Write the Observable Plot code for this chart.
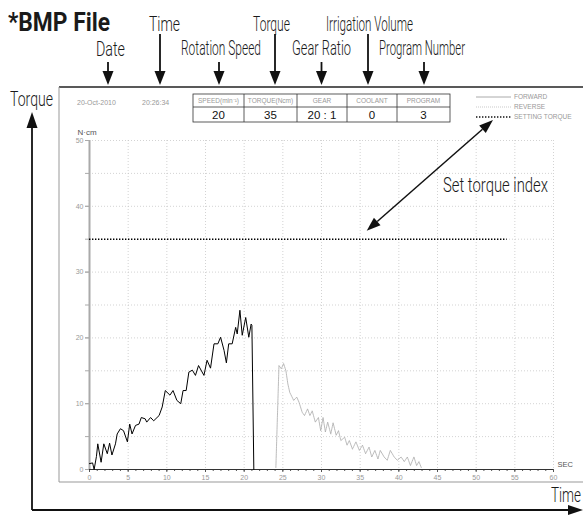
<!DOCTYPE html>
<html><head><meta charset="utf-8">
<script src="https://cdn.jsdelivr.net/npm/d3@7"></script>
<script src="https://cdn.jsdelivr.net/npm/@observablehq/plot@0.6"></script>
<style>body{margin:0;background:#fff}</style>
</head><body><div id="chart"></div>
<script>
// ---- data ----
const forwardTime = [0,0.4,0.6,0.9,1.07,1.5,1.85,2.3,2.6,2.9,3.36,3.58,4.0,4.4,4.9,5.2,5.5,5.95,6.4,6.7,7.2,7.4,7.9,8.3,9.0,9.4,9.8,10.4,10.8,11.3,11.8,12.1,12.5,12.85,13.3,13.7,14.1,14.8,15.2,15.65,16.1,16.6,16.95,17.4,17.7,18.0,18.45,18.9,19.1,19.45,19.75,20.2,20.6,20.9,21.0,21.25];
const forwardTorque = [0.9,1,0,2,3.9,1.1,3.9,2.4,4,2.2,3.9,5.4,6.2,5.9,4.2,6.9,5.4,6.7,6.9,7.9,7.7,7.2,7.9,7.4,8.2,9.5,12,11.3,12,10.5,10,12,12,14.8,15.1,14.3,15.8,14.3,16.6,15.4,19.1,19.1,20.1,18.1,16.2,19.1,19.1,21.6,20.6,24.2,20.4,23.1,20.1,22.1,21.9,0];
const reverseTime = [24.1,24.5,24.8,25.1,25.4,25.65,25.9,26.2,26.4,26.8,27.1,27.5,27.8,28.2,28.5,28.8,29.2,29.6,29.9,30.2,30.5,30.8,31.2,31.5,31.9,32.2,32.5,33.0,33.3,33.6,34.0,34.45,34.9,35.3,35.7,36.15,36.5,36.9,37.3,37.6,38.1,38.5,38.9,39.4,39.8,40.3,40.7,41.1,41.5,41.95,42.3,42.6,42.9];
const reverseTorque = [0.3,15.8,15.3,16.1,15,13,11.7,11,10.5,11,10.2,8.7,8.2,9.2,8.2,8.9,7.2,7.9,5.9,7.9,5.7,7.2,5.4,7.1,5.2,5.9,4.4,4.9,3.7,4.4,3.1,4.2,2.9,3.7,2.4,3.4,1.9,2.9,1.6,2.9,1.9,1.4,2.9,1.9,1.4,1.9,1.2,1.9,0.6,1.9,0.6,1.2,0.3];
const settingTorque = 35;
const settingEnd = 54;
const xLabelTicks = [0,5,10,15,20,25,30,35,40,45,50,55,60];
const xMinorTicks = [0,1,2,3,4,5,6,7,8,9,10,11,12,13,14,15,16,17,18,19,20,21,22,23,24,25,26,27,28,29,30,31,32,33,34,35,36,37,38,39,40,41,42,43,44,45,46,47,48,49,50,51,52,53,54,55,56,57,58,59,60];
const yLabelTicks = [0,10,20,30,40,50];
const yMinorTicks = [0,5,10,15,20,25,30,35,40,45,50];
const xGrid = [5,10,15,20,25,30,35,40,45,50,55,60];
const yGrid = [5,10,15,20,25,30,35,40,45,50];
const tableHeaders = ["SPEED(min⁻¹)","TORQUE(Ncm)","GEAR","COOLANT","PROGRAM"];
const tableValues = ["20","35","20 : 1","0","3"];
const legendLabels = ["FORWARD","REVERSE","SETTING TORQUE"];
const recordDate = "20-Oct-2010";
const recordTime = "20:26:34";
const headerNotes = ["Date","Time","Rotation Speed","Torque","Gear Ratio","Irrigation Volume","Program Number"];

const forward = forwardTime.map((t,i)=>({t, v: forwardTorque[i]}));
const reverse = reverseTime.map((t,i)=>({t, v: reverseTorque[i]}));

const small = {fontSize: 7, fill: "#999"};

const svg = Plot.plot({
  width: 583, height: 516,
  marginLeft: 89, marginRight: 30, marginTop: 140, marginBottom: 47,
  style: {background: "#fff", overflow: "visible", fontFamily: "Liberation Sans, Arial, sans-serif"},
  x: {domain: [0, 60], label: null},
  y: {domain: [0, 50], label: null},
  marks: [
    Plot.ruleY(yGrid, {stroke: "#c8c8c8", strokeDasharray: "1,2", strokeWidth: 0.8}),
    Plot.ruleX(xGrid, {stroke: "#c8c8c8", strokeDasharray: "1,2", strokeWidth: 0.8}),
    Plot.axisY({ticks: yMinorTicks, tickSize: 4, text: null, stroke: "#aaa", label: null}),
    Plot.axisY({ticks: yLabelTicks, tickSize: 4, tickPadding: 2, ...small, stroke: "#aaa", label: null}),
    Plot.axisX({ticks: xMinorTicks, tickSize: 2, text: null, stroke: "#555", label: null}),
    Plot.axisX({ticks: xLabelTicks, tickSize: 3, tickPadding: 3, ...small, stroke: "#555", label: null}),
    Plot.ruleX([0], {stroke: "#aaa", strokeWidth: 2}),
    Plot.ruleY([0], {stroke: "#333", strokeWidth: 1}),
    Plot.ruleY([settingTorque], {x1: 0, x2: settingEnd, stroke: "#000", strokeWidth: 1.6, strokeDasharray: "1.4,1.6"}),
    Plot.line(reverse, {x: "t", y: "v", stroke: "#aaa", strokeWidth: 0.8, strokeDasharray: "1.6,0.8"}),
    Plot.line(forward, {x: "t", y: "v", stroke: "#000", strokeWidth: 1}),
    Plot.text(["SEC"], {frameAnchor: "bottom-right", dx: 4, dy: -3, textAnchor: "start", fontSize: 7.5, fill: "#555"}),
    Plot.text(["N·cm"], {frameAnchor: "top-left", dx: -12, dy: -11, textAnchor: "start", fontSize: 8, fill: "#555"})
  ]
});
document.getElementById("chart").appendChild(svg);

// ---- annotations (screenshot frame, header, callouts) ----
const root = d3.select(svg).append("g").attr("text-anchor", "start");
const labelFont = "Roboto, Liberation Sans, sans-serif";

function arrowHead(g, x1, y1, x2, y2, len = 14, w = 11) {
  const dx = x2 - x1, dy = y2 - y1, L = Math.hypot(dx, dy);
  const ux = dx / L, uy = dy / L;
  const bx = x2 - ux * len, by = y2 - uy * len;
  const px = -uy * w / 2, py = ux * w / 2;
  g.append("polygon").attr("points", `${x2},${y2} ${bx + px},${by + py} ${bx - px},${by - py}`).attr("fill", "#111");
  return [bx, by];
}
function arrow(g, x1, y1, x2, y2, opts = {}) {
  const [bx, by] = arrowHead(g, x1, y1, x2, y2, opts.len, opts.w);
  let sx = x1, sy = y1;
  if (opts.both) [sx, sy] = arrowHead(g, x2, y2, x1, y1, opts.len, opts.w);
  g.append("line").attr("x1", sx).attr("y1", sy).attr("x2", bx).attr("y2", by)
    .attr("stroke", "#111").attr("stroke-width", opts.sw || 1.8);
}
function label(g, text, x, y, width, anchor = "middle", size = 20, weight = 300) {
  g.append("text").attr("x", x).attr("y", y).attr("text-anchor", anchor)
    .attr("font-family", labelFont).attr("font-size", size).attr("font-weight", weight)
    .attr("fill", "#1a1a1a").attr("textLength", width).attr("lengthAdjust", "spacingAndGlyphs").text(text);
}
function smallText(g, text, x, y, size, fill, anchor = "start") {
  g.append("text").attr("x", x).attr("y", y).attr("text-anchor", anchor).attr("font-size", size).attr("fill", fill).text(text);
}

// screenshot frame
root.append("line").attr("x1", 59).attr("y1", 87).attr("x2", 583).attr("y2", 87).attr("stroke", "#222").attr("stroke-width", 1.6);
root.append("line").attr("x1", 59).attr("y1", 87).attr("x2", 59).attr("y2", 482).attr("stroke", "#999").attr("stroke-width", 1);
root.append("line").attr("x1", 59).attr("y1", 482).attr("x2", 583).attr("y2", 482).attr("stroke", "#999").attr("stroke-width", 1);

// date / time
smallText(root, recordDate, 77, 105, 7, "#999");
smallText(root, recordTime, 142, 105, 7, "#999");

// settings table
const colEdges = [193, 244, 297, 347, 397, 450];
const tTop = 94, tMid = 107, tBot = 122;
root.append("rect").attr("x", colEdges[0]).attr("y", tTop).attr("width", colEdges[5] - colEdges[0]).attr("height", tBot - tTop)
  .attr("fill", "none").attr("stroke", "#333").attr("stroke-width", 0.8);
root.append("line").attr("x1", colEdges[0]).attr("x2", colEdges[5]).attr("y1", tMid).attr("y2", tMid).attr("stroke", "#333").attr("stroke-width", 0.8);
tableHeaders.forEach((h, i) => {
  const cx = (colEdges[i] + colEdges[i + 1]) / 2;
  if (i > 0) root.append("line").attr("x1", colEdges[i]).attr("x2", colEdges[i]).attr("y1", tTop).attr("y2", tBot).attr("stroke", "#333").attr("stroke-width", 0.8);
  smallText(root, h, cx, 103, 6.5, "#999", "middle");
  smallText(root, tableValues[i], cx, 119, 11.5, "#111", "middle");
});

// legend
const legendStyles = [
  {stroke: "#aaa", w: 1, dash: null},
  {stroke: "#bbb", w: 0.8, dash: "1,1"},
  {stroke: "#111", w: 1.5, dash: "1.4,1.6"}
];
legendLabels.forEach((l, i) => {
  const y = 97 + i * 10;
  const ln = root.append("line").attr("x1", 476).attr("x2", 511).attr("y1", y).attr("y2", y)
    .attr("stroke", legendStyles[i].stroke).attr("stroke-width", legendStyles[i].w);
  if (legendStyles[i].dash) ln.attr("stroke-dasharray", legendStyles[i].dash);
  smallText(root, l, 514, y + 2.3, 6.5, "#999");
});

// header notes with arrows
const notePos = [
  {cx: 110.5, y: 56, w: 29, ax: 108, top: 62},
  {cx: 164.5, y: 31, w: 31, ax: 160, top: 34},
  {cx: 221, y: 55, w: 80, ax: 219, top: 62},
  {cx: 271.5, y: 31, w: 37, ax: 275, top: 34},
  {cx: 321.5, y: 55, w: 59, ax: 321.5, top: 62},
  {cx: 369.5, y: 31, w: 87, ax: 368, top: 34},
  {cx: 422, y: 55, w: 86, ax: 424, top: 62}
];
headerNotes.forEach((n, i) => {
  const p = notePos[i];
  label(root, n, p.cx, p.y, p.w);
  arrow(root, p.ax, p.top, p.ax, 85, {len: 14, w: 11});
});

label(root, "*BMP File", 8, 31, 102, "start", 25, 700);
label(root, "Torque", 10, 106, 43, "start");
label(root, "Time", 551, 502, 30, "start");
label(root, "Set torque index", 443, 192, 105, "start");

// big axes arrows
arrow(root, 32, 510, 32, 112, {len: 16, w: 11});
arrow(root, 32, 510, 583, 510, {len: 15, w: 10});
// set torque callout
arrow(root, 366.7, 230.7, 493, 120, {both: true, len: 14, w: 10, sw: 1.5});
</script>
</body></html>
